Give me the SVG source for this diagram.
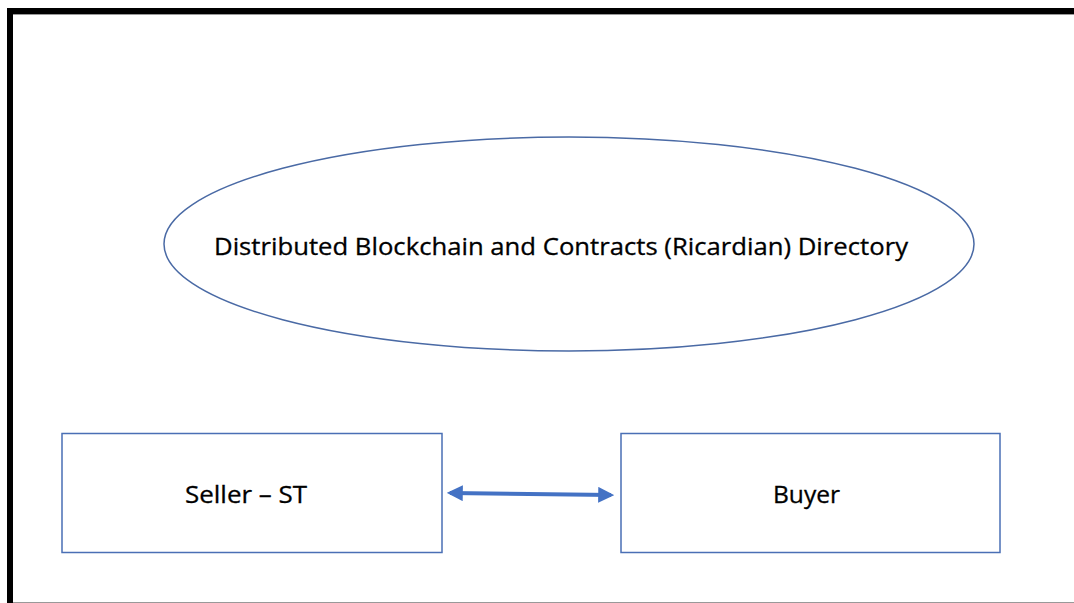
<svg xmlns="http://www.w3.org/2000/svg" width="1074" height="603" viewBox="0 0 1074 603">
<style>
.lbl{font-family:"Open Sans","Liberation Sans",sans-serif;font-size:24px;fill:#000;text-anchor:middle;stroke:#000;stroke-width:0.3}
.box{fill:#fff;stroke:#4a6fb5;stroke-width:1.5}
</style>
<defs>
<marker id="ah" viewBox="0 0 10 10" refX="8" refY="5" markerWidth="4" markerHeight="4" orient="auto-start-reverse"><path d="M0,0 L10,5 L0,10 z" fill="#4472c4"/></marker>
</defs>
<rect width="1074" height="603" fill="#fff"/>
<rect x="7" y="8" width="1067" height="6" fill="#000"/>
<rect x="7" y="8" width="6" height="595" fill="#000"/>
<line x1="13" y1="14.5" x2="1074" y2="14.5" stroke="#999" stroke-width="1"/>
<line x1="13" y1="602.5" x2="1074" y2="602.5" stroke="#999" stroke-width="1"/>
<g id="directory">
<ellipse cx="569" cy="244" rx="405" ry="107" fill="none" stroke="#4a6aa5" stroke-width="1.5"/>
<text class="lbl" x="561" y="255" textLength="694" lengthAdjust="spacingAndGlyphs">Distributed Blockchain and Contracts (Ricardian) Directory</text>
</g>
<g id="seller">
<rect class="box" x="62" y="433.5" width="380" height="119"/>
<text class="lbl" x="246" y="503" textLength="122" lengthAdjust="spacingAndGlyphs">Seller – ST</text>
</g>
<g id="buyer">
<rect class="box" x="621" y="433.5" width="379" height="119"/>
<text class="lbl" x="806.5" y="503" textLength="67" lengthAdjust="spacingAndGlyphs">Buyer</text>
</g>
<g id="connectors">
<line x1="450" y1="493" x2="611" y2="495" stroke="#4472c4" stroke-width="4" marker-start="url(#ah)" marker-end="url(#ah)"/>
</g>
</svg>
